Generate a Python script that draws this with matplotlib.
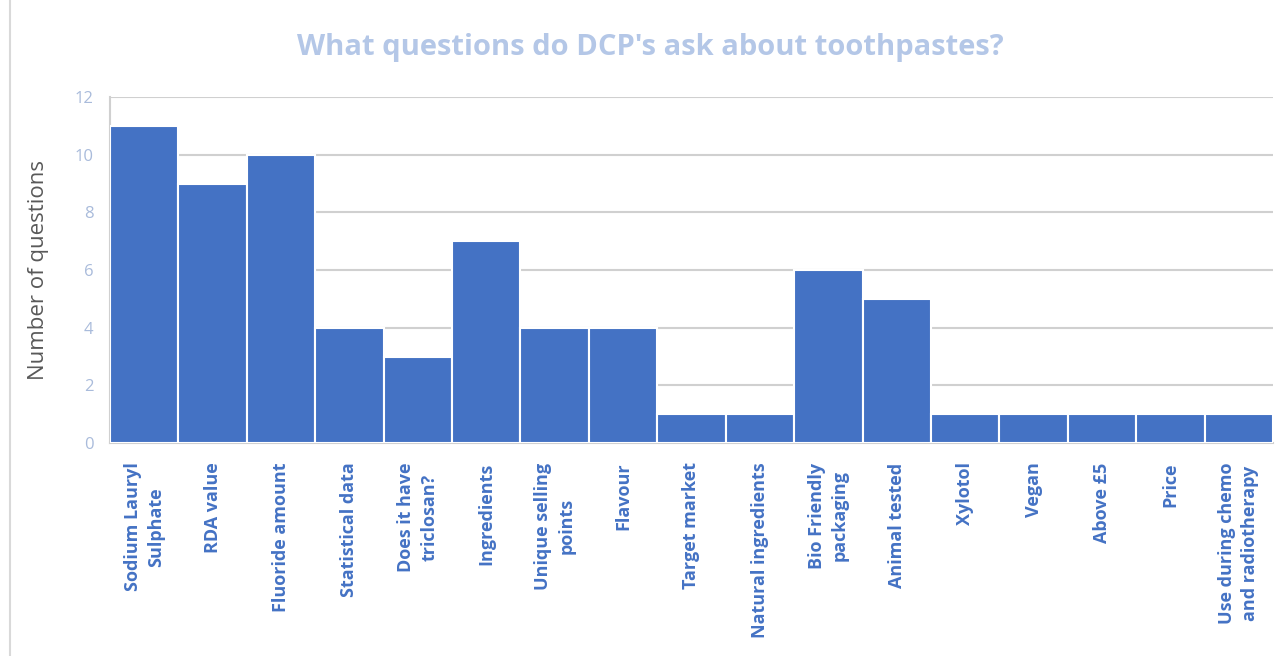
import matplotlib
matplotlib.use("Agg")
import matplotlib.pyplot as plt
from matplotlib.patches import Rectangle

# questions asked about toothpastes, one bar per topic
topics = ['Sodium Lauryl\nSulphate', 'RDA value', 'Fluoride amount', 'Statistical data',
          'Does it have\ntriclosan?', 'Ingredients', 'Unique selling\npoints', 'Flavour',
          'Target market', 'Natural ingredients', 'Bio Friendly\npackaging', 'Animal tested',
          'Xylotol', 'Vegan', 'Above £5', 'Price', 'Use during chemo\nand radiotherapy']
counts = [11, 9, 10, 4, 3, 7, 4, 4, 1, 1, 6, 5, 1, 1, 1, 1, 1]
y_ticks = [0, 2, 4, 6, 8, 10, 12]

bar_blue = '#4472c4'
grid_grey = '#d0d0d0'

plt.rcParams['font.family'] = ['Open Sans', 'DejaVu Sans']

fig = plt.figure(figsize=(12.87, 6.56), dpi=100)
ax = fig.add_axes([110 / 1287, 1 - 443 / 656, 1163 / 1287, 346 / 656])

x = range(len(topics))
ax.bar(x, counts, width=1.0, color=bar_blue, edgecolor='white', linewidth=1.5, zorder=3)

ax.set_xlim(-0.5, len(topics) - 0.5)
ax.set_ylim(0, 12)
ax.set_yticks(y_ticks)
ax.yaxis.grid(True, color=grid_grey, linewidth=1.5, zorder=0)
ax.tick_params(axis='y', length=0, pad=12, labelsize=12, labelcolor='#a9bbdb')
ax.tick_params(axis='x', length=0, pad=14)

ax.set_xticks(list(x))
ax.set_xticklabels(topics, rotation=90, ha='center', va='top', multialignment='center',
                   fontsize=13, fontweight='bold', color=bar_blue, linespacing=1.35)

for side in ['top', 'right']:
    ax.spines[side].set_visible(False)
for side in ['left', 'bottom']:
    ax.spines[side].set_color(grid_grey)
    ax.spines[side].set_linewidth(1.5)

ax.set_ylabel('Number of questions', fontsize=16, color='#595959', labelpad=18)

fig.text(650 / 1287, 1 - 47 / 656, "What questions do DCP's ask about toothpastes?",
         ha='center', va='center', fontsize=21, fontweight='bold', color='#b4c7e7')

# light frame around the chart area
fig.patches.append(Rectangle((10 / 1287, -0.01), 1.02, 1.02, transform=fig.transFigure,
                             fill=False, edgecolor='#d9d9d9', linewidth=1.5))

fig.savefig('out.png', dpi=100)
